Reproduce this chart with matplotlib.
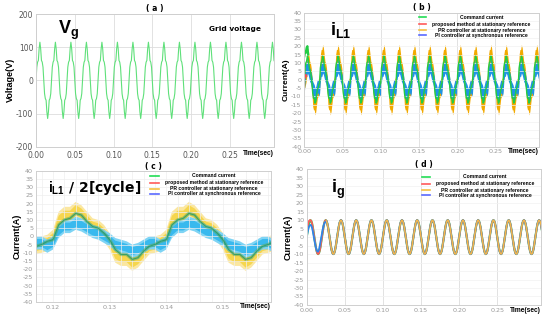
#!/usr/bin/env python3
"Grid-connected inverter waveforms: grid voltage, inverter current, zoomed current, grid current"

import numpy as np
import matplotlib
matplotlib.use('Agg')
import matplotlib.pyplot as plt
from matplotlib.ticker import MultipleLocator

T_STEP = 0.001
N_CYCLES = 16

vg_cycle = [0, 40, 55, 60, 95, 115, 95, 60, 55, 40,
            0, -40, -55, -60, -95, -115, -95, -60, -55, -40]

# inverter-side current i_L1: centre of each band and its half width
cmd_cycle = [-2, 7, 10, 11, 14, 13, 9, 6, 5, 2,
             -2, -8, -11, -11, -14, -13, -9, -6, -5, -3]
pr_cycle = [-1, 9, 12, 12, 16, 14, 10, 6, 5, 2,
            -3, -10, -12, -12, -16, -14, -10, -6, -5, -4]
pr_ripple = [5, 6, 6, 6, 5, 5, 5, 5, 5, 5,
             5, 6, 6, 6, 5, 5, 5, 5, 5, 5]
pi_cycle = [-4, 3, 6, 6, 8, 7, 5, 3, 2, 0,
            -2, -5, -6, -7, -9, -8, -6, -4, -4, -6]
pi_ripple = [4, 4, 4, 4, 4, 4, 4, 4, 4, 4,
             4, 4, 4, 4, 4, 4, 4, 4, 4, 4]

# start-up of panel (b)
pr_start_b = [-1, 2, 4, 7, 10]
cmd_start_b = [14, 17, 16, 19, 20, 15]
prop_start_b = [1, 3, 2]

# grid current i_g
ig_cycle = [0, 3.1, 5.9, 8.1, 9.5, 10, 9.5, 8.1, 5.9, 3.1,
            0, -3.1, -5.9, -8.1, -9.5, -10, -9.5, -8.1, -5.9, -3.1]
ig_pi_first = [0, 2.5, 4.5, 6, 7, 7.2, 6.8, 5.5, 3.5, 1,
               -1.5, -4, -6, -7.5, -8.5, -8.5, -7.5, -5.5, -3, -0.5,
               2, 4.5, 6.5, 8, 8.8, 9]
ig_prop_first = [1, 5, 8, 9.5, 10, 10]

LEGEND = [('Command current', '#22dd55'),
          ('proposed method at stationary reference', '#ff5a5a'),
          ('PR controller at stationary reference', '#f5c040'),
          ('PI controller at synchronous reference', '#5a6aff')]

NARROW = ['Liberation Sans Narrow', 'Liberation Sans', 'DejaVu Sans']


def tile(cycle):
    "Repeat one period over the whole record"
    return np.tile(np.asarray(cycle, dtype=float), N_CYCLES)


def splice(start, cycle):
    "Replace the first samples of a tiled record with start-up values"
    data = tile(cycle)
    data[:len(start)] = start
    return data


def style(ax, ylim, ystep, xticks, xlim, tick_color, tick_size, time_y):
    ax.set_xlim(*xlim)
    ax.set_ylim(*ylim)
    ax.set_xticks(xticks)
    ax.yaxis.set_major_locator(MultipleLocator(ystep))
    ax.tick_params(length=0, pad=2, colors=tick_color, labelsize=tick_size)
    for spine in ax.spines.values():
        spine.set_color('#cfcfcf')
        spine.set_linewidth(0.7)
    ax.text(1.0, time_y, 'Time(sec)', transform=ax.transAxes, ha='right',
            va='center', fontsize=4.8, fontweight='bold', family=NARROW)


def legend(ax, rows, x0, x1, xt):
    for (label, color), y in zip(LEGEND, rows):
        ax.plot([x0, x1], [y, y], color=color, lw=1.2,
                transform=ax.transAxes, clip_on=False)
        ax.text(xt, y, label, transform=ax.transAxes, ha='center',
                va='center', fontsize=3.6, fontweight='bold', family=NARROW)


def main():
    "Main function"
    plt.rcParams['mathtext.fontset'] = 'custom'
    plt.rcParams['mathtext.bf'] = 'Liberation Sans:bold'
    plt.rcParams['mathtext.rm'] = 'Liberation Sans'
    plt.rcParams['axes.unicode_minus'] = False

    t = np.arange(20 * N_CYCLES) * T_STEP
    fig = plt.figure(figsize=(5.5, 3.2), dpi=100)

    ax_a = fig.add_axes([0.0655, 0.5416, 0.4327, 0.4146])
    ax_b = fig.add_axes([0.5533, 0.5416, 0.4267, 0.4188])
    ax_c = fig.add_axes([0.0655, 0.056, 0.4273, 0.4106])
    ax_d = fig.add_axes([0.5576, 0.047, 0.4255, 0.424])

    full_ticks = [0.0, 0.05, 0.10, 0.15, 0.20, 0.25]

    # (a) grid voltage
    ax_a.plot(t, tile(vg_cycle), color='#5fe07a', lw=0.8)
    style(ax_a, (-200, 200), 100, full_ticks, (0, 0.307), '#555555', 5.5,
          -0.055)
    ax_a.tick_params(axis='x', pad=3)
    ax_a.set_xticklabels(['%.2f' % v for v in full_ticks])
    ax_a.grid(True, color='#dddddd', lw=0.6)
    ax_a.set_ylabel('Voltage(V)', fontsize=6.5, fontweight='bold',
                    family=NARROW, labelpad=1)
    ax_a.set_title('( a )', fontsize=5.5, fontweight='bold', pad=2)
    ax_a.text(0.092, 0.88, r'$\mathbf{V_g}$', transform=ax_a.transAxes,
              fontsize=13, va='center')
    ax_a.text(0.727, 0.887, 'Grid voltage', transform=ax_a.transAxes,
              fontsize=5.3, fontweight='bold', va='center')

    # (b) inverter current, full record
    pr_b = splice(pr_start_b, pr_cycle)
    ax_b.plot(t, tile(cmd_cycle), color='#22cc44', lw=1)
    ax_b.fill_between(t, pr_b - tile(pr_ripple), pr_b + tile(pr_ripple),
                      color='#f2a900', lw=0)
    ax_b.fill_between(t, tile(pi_cycle) - tile(pi_ripple),
                      tile(pi_cycle) + tile(pi_ripple),
                      color='#1f93e6', lw=0)
    ax_b.plot(t[:len(cmd_start_b)], cmd_start_b, color='#22cc44', lw=1.6)
    ax_b.plot(t[1:1 + len(prop_start_b)], prop_start_b, color='#ff4d4d', lw=1)
    style(ax_b, (-40, 40), 5, full_ticks, (0, 0.307), '#999999', 4.6, -0.037)
    ax_b.set_xticklabels(['%.2f' % v for v in full_ticks])
    ax_b.grid(True, axis='x', color='#dddddd', lw=0.6)
    ax_b.grid(True, axis='y', color='#f2f2f2', lw=0.5)
    ax_b.set_ylabel('Current(A)', fontsize=6, fontweight='bold',
                    family=NARROW, labelpad=1)
    ax_b.set_title('( b )', fontsize=5.5, fontweight='bold', pad=2)
    ax_b.text(0.11, 0.87, r'$\mathbf{i_{L1}}$', transform=ax_b.transAxes,
              fontsize=13, va='center')
    legend(ax_b, [0.966, 0.913, 0.87, 0.83], 0.49, 0.52, 0.755)

    # (c) inverter current, two cycles
    pr_c = tile(pr_cycle)
    pi_c = tile(pi_cycle)
    ax_c.fill_between(t, pr_c - tile(pr_ripple), pr_c + tile(pr_ripple),
                      color='#fbe7a0', lw=0)
    ax_c.fill_between(t, pr_c - 0.6 * tile(pr_ripple),
                      pr_c + 0.6 * tile(pr_ripple), color='#f6d64e', lw=0)
    ax_c.fill_between(t, pi_c - tile(pi_ripple), pi_c + tile(pi_ripple),
                      color='#7fd4f4', lw=0)
    ax_c.fill_between(t, pi_c - 0.6 * tile(pi_ripple),
                      pi_c + 0.6 * tile(pi_ripple), color='#38b9ee', lw=0)
    ax_c.plot(t, tile(cmd_cycle), color='#5aa860', lw=2.4, alpha=0.55)
    ax_c.plot(t, tile(cmd_cycle), color='#1f9a6a', lw=0.8, alpha=0.8)
    style(ax_c, (-40, 40), 5, [0.12, 0.13, 0.14, 0.15], (0.117, 0.1585),
          '#999999', 4.6, -0.03)
    ax_c.set_xticklabels(['0.12', '0.13', '0.14', '0.15'])
    ax_c.xaxis.set_minor_locator(MultipleLocator(0.002))
    ax_c.tick_params(which='minor', length=0)
    ax_c.grid(True, which='both', color='#eeeeee', lw=0.5)
    ax_c.set_ylabel('Current(A)', fontsize=6.5, fontweight='bold',
                    family=NARROW, labelpad=1)
    ax_c.set_title('( c )', fontsize=5.5, fontweight='bold', pad=1.5)
    ax_c.text(0.05, 0.866, r'$\mathbf{i_{L1}}$ / 2[cycle]',
              transform=ax_c.transAxes, fontsize=10, fontweight='bold',
              va='center')
    legend(ax_c, [0.962, 0.909, 0.861, 0.823], 0.485, 0.525, 0.757)

    # (d) grid current
    ig = tile(ig_cycle)
    ax_d.plot(t, ig, color='#33cc55', lw=1.6)
    ax_d.plot(t, splice(ig_prop_first, ig_cycle), color='#ff5a5a', lw=1.3)
    ax_d.plot(t, splice(ig_pi_first, ig_cycle), color='#2e86e8', lw=1.3)
    ax_d.plot(t[len(ig_pi_first):], ig[len(ig_pi_first):],
              color='#f5b548', lw=1.1)
    style(ax_d, (-40, 40), 5, full_ticks, (0, 0.307), '#999999', 4.6, -0.042)
    ax_d.set_xticklabels(['%.2f' % v for v in full_ticks])
    ax_d.grid(True, axis='x', color='#dddddd', lw=0.6)
    ax_d.grid(True, axis='y', color='#f2f2f2', lw=0.5)
    ax_d.set_ylabel('Current(A)', fontsize=6.5, fontweight='bold',
                    family=NARROW, labelpad=1)
    ax_d.set_title('( d )', fontsize=5.5, fontweight='bold', pad=2)
    ax_d.text(0.105, 0.853, r'$\mathbf{i_g}$', transform=ax_d.transAxes,
              fontsize=13, va='center')
    legend(ax_d, [0.946, 0.892, 0.847, 0.81], 0.491, 0.527, 0.762)

    fig.savefig('out.png', dpi=100)


if __name__ == "__main__":
    main()
